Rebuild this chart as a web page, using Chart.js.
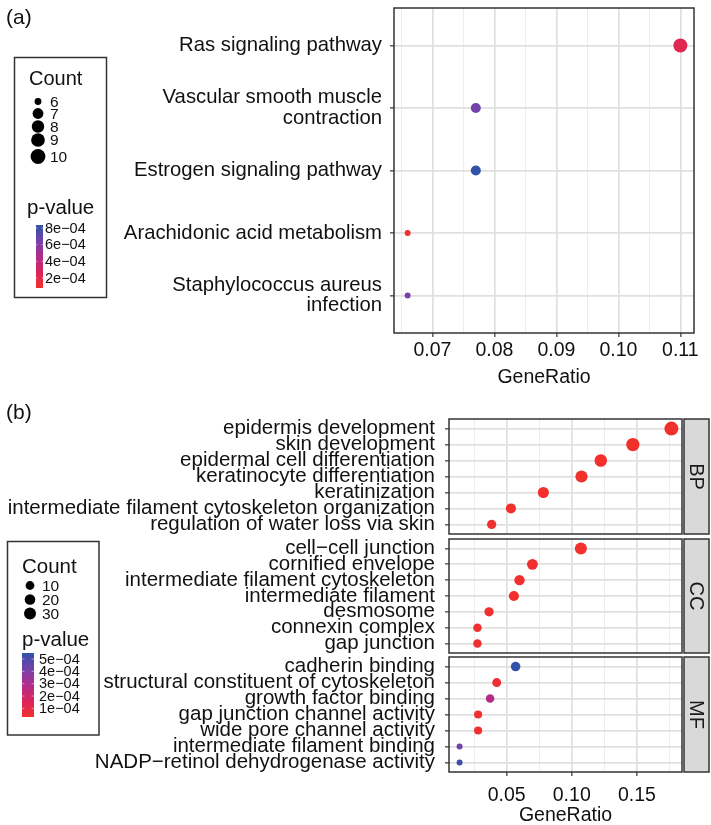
<!DOCTYPE html>
<html><head><meta charset="utf-8">
<script src="https://cdn.jsdelivr.net/npm/chart.js@4.4.1/dist/chart.umd.min.js"></script>
<style>
html,body{margin:0;padding:0;background:#fff;}
body{width:711px;height:825px;position:relative;overflow:hidden;}
canvas{position:absolute;left:0;top:0;}
</style></head><body>
<canvas id="ca" width="711" height="390"></canvas>
<canvas id="cbp" width="711" height="825"></canvas>
<canvas id="ccc" width="711" height="825"></canvas>
<canvas id="cmf" width="711" height="825"></canvas>
<script>
// ---------- Panel (a) data ----------
const catsA = ["Ras signaling pathway", "Vascular smooth muscle\ncontraction", "Estrogen signaling pathway", "Arachidonic acid metabolism", "Staphylococcus aureus\ninfection"];
const ratioA = [0.110, 0.077, 0.077, 0.066, 0.066];
const countA = [10, 7, 7, 6, 6];
const pvalA = [2.3e-4, 6.5e-4, 8.36e-4, 0.8e-4, 6.3e-4];
const xMajorA = [0.07, 0.08, 0.09, 0.10, 0.11];
const xMinorA = [0.065, 0.075, 0.085, 0.095, 0.105];
const countLegendA = [6, 7, 8, 9, 10];
const pLegendA = [2e-4, 4e-4, 6e-4, 8e-4];

// ---------- Panel (b) data ----------
const catsBP = ["epidermis development", "skin development", "epidermal cell differentiation", "keratinocyte differentiation", "keratinization", "intermediate filament cytoskeleton organization", "regulation of water loss via skin"];
const ratioBP = [0.1765, 0.1469, 0.1223, 0.1075, 0.0782, 0.0533, 0.0385];
const countBP = [32, 27, 22, 20, 14, 10, 7];
const pvalBP = [3.0e-5, 3.1e-5, 3.2e-5, 3.3e-5, 3.5e-5, 3.8e-5, 4.0e-5];

const catsCC = ["cell\u2212cell junction", "cornified envelope", "intermediate filament cytoskeleton", "intermediate filament", "desmosome", "connexin complex", "gap junction"];
const ratioCC = [0.1070, 0.0698, 0.0599, 0.0556, 0.0365, 0.0276, 0.0276];
const countCC = [19, 13, 11, 10, 7, 5, 5];
const pvalCC = [3.2e-5, 3.4e-5, 3.5e-5, 3.6e-5, 4.0e-5, 4.2e-5, 4.2e-5];

const catsMF = ["cadherin binding", "structural constituent of cytoskeleton", "growth factor binding", "gap junction channel activity", "wide pore channel activity", "intermediate filament binding", "NADP\u2212retinol dehydrogenase activity"];
const ratioMF = [0.0569, 0.0424, 0.0373, 0.0281, 0.0281, 0.0139, 0.0139];
const countMF = [8, 6, 5, 4, 4, 2, 2];
const pvalMF = [5.49e-4, 5.0e-5, 2.8e-4, 4.2e-5, 4.2e-5, 4.3e-4, 5.3e-4];

const facetNames = ["BP", "CC", "MF"];
const xMajorB = [0.05, 0.10, 0.15];
const xMinorB = [0.025, 0.075, 0.125, 0.175];
const countLegendB = [10, 20, 30];
const pLegendB = [1e-4, 2e-4, 3e-4, 4e-4, 5e-4];

// ---------- helpers ----------
const FONT = '"Liberation Sans", Arial, Helvetica, sans-serif';
Chart.defaults.font.family = FONT;
const STOPS = [[0,[242,48,43]],[0.25,[218,37,92]],[0.5,[178,44,140]],[0.75,[116,66,170]],[1,[50,82,168]]];
function grad(t){
  t = Math.max(0, Math.min(1, t));
  for (let i = 1; i < STOPS.length; i++) {
    if (t <= STOPS[i][0]) {
      const [t0,c0] = STOPS[i-1], [t1,c1] = STOPS[i];
      const f = (t - t0) / (t1 - t0);
      return 'rgb(' + c0.map((v,k) => Math.round(v + (c1[k]-v)*f)).join(',') + ')';
    }
  }
  return 'rgb(' + STOPS[STOPS.length-1][1].join(',') + ')';
}
function expand(arr){ const lo = Math.min(...arr), hi = Math.max(...arr), d = (hi-lo)*0.05; return [lo-d, hi+d]; }
function near(a,b){ return Math.abs(a-b) < 1e-9; }
function fmtE(v){ const [m,e] = v.toExponential(0).split('e'); const n = parseInt(e,10); return m + 'e' + (n<0?'\u2212':'+') + String(Math.abs(n)).padStart(2,'0'); }

const minCA = Math.min(...countA), maxCA = Math.max(...countA);
const rA = c => 3 + 4*Math.sqrt(Math.max(0,(c-minCA))/(maxCA-minCA));
const minPA = Math.min(...pvalA), maxPA = Math.max(...pvalA);
const colA = p => grad((p-minPA)/(maxPA-minPA));

const allCountB = [...countBP, ...countCC, ...countMF];
const allPB = [...pvalBP, ...pvalCC, ...pvalMF];
const minCB = Math.min(...allCountB), maxCB = Math.max(...allCountB);
const rB = c => 3 + 4*Math.sqrt(Math.max(0,(c-minCB))/(maxCB-minCB));
const minPB = Math.min(...allPB), maxPB = Math.max(...allPB);
const colB = p => grad((p-minPB)/(maxPB-minPB));

const GRID_MAJ = '#e0e0e0', GRID_MIN = '#ebebeb', INK = '#111';

function xScale(range, majors, minors, show, h, pad, titlePad){
  const all = [...majors, ...minors].sort((a,b)=>a-b);
  const isMaj = v => majors.some(m => near(m,v));
  return {
    type:'linear', position:'bottom', min:range[0], max:range[1],
    afterBuildTicks: s => { s.ticks = all.map(v => ({value:v})); },
    ticks:{display:show, autoSkip:false, maxRotation:0, minRotation:0, color:INK, font:{size:19.5}, padding:pad,
      callback: v => isMaj(v) ? v.toFixed(2) : ''},
    grid:{color: c => (c.tick && isMaj(c.tick.value)) ? GRID_MAJ : GRID_MIN,
      lineWidth: c => (c.tick && isMaj(c.tick.value)) ? 1.7 : 0.9,
      drawTicks:show, tickLength:4, tickWidth:1.2,
      tickColor: c => (c.tick && isMaj(c.tick.value)) ? '#333' : 'rgba(0,0,0,0)'},
    border:{display:false},
    title:{display:show, text:'GeneRatio', color:INK, font:{size:19.5, lineHeight:1}, padding:{top:0, bottom:titlePad}},
    afterFit: s => { s.height = h; s.paddingLeft = 0; s.paddingRight = 0; s.paddingTop = 0; s.paddingBottom = 0; }
  };
}
function yScale(cats, width, pad, fs){
  return {
    type:'linear', reverse:true, min:-0.6, max:cats.length-1+0.6,
    afterBuildTicks: s => { s.ticks = cats.map((_,i) => ({value:i})); },
    ticks:{autoSkip:false, color:INK, font:{size:fs, lineHeight:1}, padding:pad,
      callback: v => (cats[v] !== undefined) ? cats[v].split('\n') : ''},
    grid:{color:GRID_MAJ, lineWidth:1.7, tickLength:4, tickWidth:1.2, tickColor:'#333'},
    border:{display:false},
    afterFit: s => { s.width = width; s.paddingLeft = 0; s.paddingRight = 0; s.paddingTop = 0; s.paddingBottom = 0; }
  };
}
function dataset(ratio, count, pval, rf, cf){
  return {data: ratio.map((x,i) => ({x, y:i})), pointRadius: count.map(rf), pointHoverRadius: count.map(rf),
    pointBackgroundColor: pval.map(cf), pointBorderWidth:0, pointHoverBorderWidth:0};
}
function frame(ctx, a){
  ctx.save(); ctx.strokeStyle = '#333'; ctx.lineWidth = 1.5;
  ctx.strokeRect(a.left, a.top, a.width, a.height); ctx.restore();
}
function strip(ctx, a, name){
  ctx.save();
  const x = a.right + 2, w = 25;
  ctx.fillStyle = '#d9d9d9'; ctx.fillRect(x, a.top, w, a.height);
  ctx.strokeStyle = '#333'; ctx.lineWidth = 1.5; ctx.strokeRect(x, a.top, w, a.height);
  ctx.translate(x + w/2, (a.top + a.bottom)/2); ctx.rotate(Math.PI/2);
  ctx.fillStyle = '#1a1a1a'; ctx.font = '20px ' + FONT; ctx.textAlign = 'center'; ctx.textBaseline = 'middle';
  ctx.fillText(name, 0, 1);
  ctx.restore();
}
function colorbar(ctx, x0, w, top, bot, pmin, pmax, ticks, labelX, fs){
  const g = ctx.createLinearGradient(0, bot, 0, top);
  STOPS.forEach(([t,c]) => g.addColorStop(t, 'rgb(' + c.join(',') + ')'));
  ctx.fillStyle = g; ctx.fillRect(x0, top, w, bot-top);
  ctx.font = fs + 'px ' + FONT; ctx.textBaseline = 'middle'; ctx.textAlign = 'left';
  ticks.forEach(v => {
    const y = bot - (v-pmin)/(pmax-pmin)*(bot-top);
    ctx.strokeStyle = 'rgba(255,255,255,0.6)'; ctx.lineWidth = 0.8;
    ctx.beginPath(); ctx.moveTo(x0, y); ctx.lineTo(x0+w*0.2, y); ctx.moveTo(x0+w*0.8, y); ctx.lineTo(x0+w, y); ctx.stroke();
    ctx.fillStyle = INK; ctx.fillText(fmtE(v), labelX, y + 0.5);
  });
}
const baseOpts = (pad) => ({responsive:false, animation:false, devicePixelRatio:1, events:[],
  layout:{autoPadding:false, padding:pad}, plugins:{legend:{display:false}, tooltip:{enabled:false}}});

// ---------- Chart (a) ----------
const plugA = {id:'decorA', afterDraw(chart){
  const ctx = chart.ctx; frame(ctx, chart.chartArea);
  ctx.save();
  ctx.fillStyle = INK; ctx.font = '21px ' + FONT; ctx.textAlign = 'left'; ctx.textBaseline = 'alphabetic';
  ctx.fillText('(a)', 6, 23.5);
  ctx.strokeStyle = '#333'; ctx.lineWidth = 1.5; ctx.strokeRect(14.5, 57.5, 92, 240);
  ctx.font = '20px ' + FONT; ctx.fillText('Count', 29, 85);
  const ys = [101.5, 113.5, 126.5, 140, 156.5];
  countLegendA.forEach((c,i) => {
    ctx.fillStyle = '#000'; ctx.beginPath(); ctx.arc(38, ys[i], rA(c) + 0.4, 0, 2*Math.PI); ctx.fill();
    ctx.fillStyle = INK; ctx.font = '15.5px ' + FONT; ctx.textBaseline = 'middle'; ctx.fillText(String(c), 50, ys[i] + 1);
  });
  ctx.font = '20.5px ' + FONT; ctx.textBaseline = 'alphabetic'; ctx.fillStyle = INK; ctx.fillText('p-value', 27, 214);
  colorbar(ctx, 36, 7, 225, 288, minPA, maxPA, pLegendA, 45, 14.5);
  ctx.restore();
}};
new Chart(document.getElementById('ca'), {
  type:'scatter',
  data:{datasets:[dataset(ratioA, countA, pvalA, rA, colA)]},
  options:Object.assign(baseOpts({left:0, right:17, top:8, bottom:0}), {
    scales:{x:xScale(expand(ratioA), xMajorA, xMinorA, true, 57, 2, 3), y:yScale(catsA, 394, 8, 20.3)}}),
  plugins:[plugA]
});

// ---------- Chart (b): three facets ----------
const rangeB = expand([...ratioBP, ...ratioCC, ...ratioMF]);
const facets = [
  {id:'cbp', cats:catsBP, ratio:ratioBP, count:countBP, pval:pvalBP, top:419, bottom:825-534, showX:false},
  {id:'ccc', cats:catsCC, ratio:ratioCC, count:countCC, pval:pvalCC, top:539, bottom:825-653, showX:false},
  {id:'cmf', cats:catsMF, ratio:ratioMF, count:countMF, pval:pvalMF, top:657, bottom:0, showX:true}
];
facets.forEach((f, k) => {
  const plug = {id:'decorB'+k, afterDraw(chart){
    const ctx = chart.ctx, a = chart.chartArea;
    frame(ctx, a); strip(ctx, a, facetNames[k]);
    ctx.save(); ctx.fillStyle = INK; ctx.textAlign = 'left';
    if (k === 0) { ctx.font = '21px ' + FONT; ctx.textBaseline = 'alphabetic'; ctx.fillText('(b)', 6, 419); }
    if (k === 2) {
      ctx.strokeStyle = '#333'; ctx.lineWidth = 1.5; ctx.strokeRect(7.5, 541.5, 91.5, 193.5);
      ctx.font = '20.5px ' + FONT; ctx.textBaseline = 'alphabetic'; ctx.fillText('Count', 22, 573);
      const ys = [585.5, 599.5, 613.5];
      countLegendB.forEach((c,i) => {
        ctx.fillStyle = '#000'; ctx.beginPath(); ctx.arc(30, ys[i], rB(c)*0.87, 0, 2*Math.PI); ctx.fill();
        ctx.fillStyle = INK; ctx.font = '15.5px ' + FONT; ctx.textBaseline = 'middle'; ctx.fillText(String(c), 42, ys[i] + 1);
      });
      ctx.font = '20.5px ' + FONT; ctx.textBaseline = 'alphabetic'; ctx.fillStyle = INK; ctx.fillText('p-value', 22, 646);
      colorbar(ctx, 22, 12, 653, 717, minPB, maxPB, pLegendB, 39, 14.5);
    }
    ctx.restore();
  }};
  new Chart(document.getElementById(f.id), {
    type:'scatter',
    data:{datasets:[dataset(f.ratio, f.count, f.pval, rB, colB)]},
    options:Object.assign(baseOpts({left:0, right:29, top:f.top, bottom:f.bottom}), {
      scales:{x:xScale(rangeB, xMajorB, xMinorB, f.showX, f.showX ? 53 : 0, 8, 0), y:yScale(f.cats, 449, 10, 20.5)}}),
    plugins:[plug]
  });
});
</script>
</body></html>
